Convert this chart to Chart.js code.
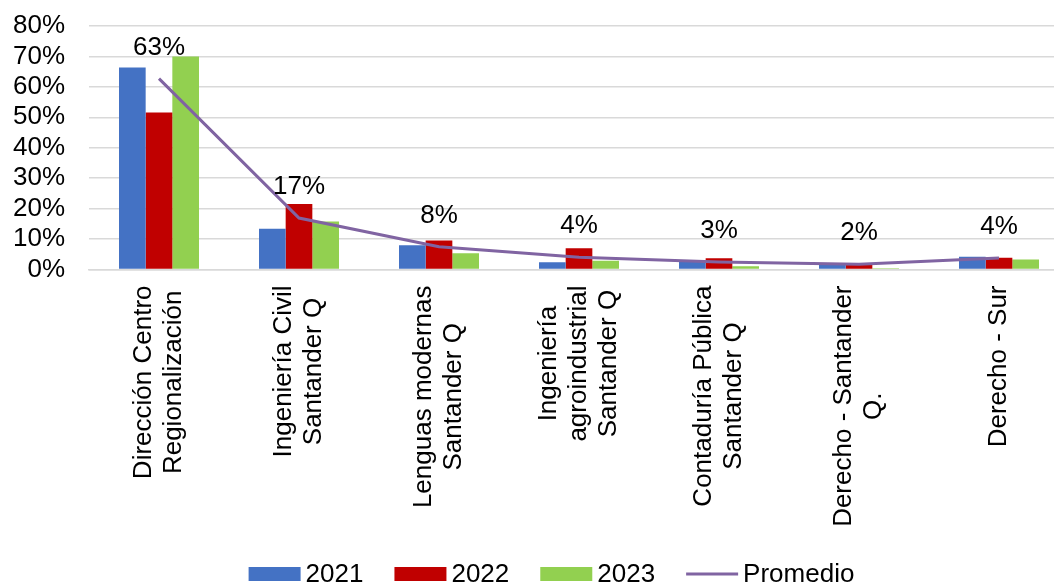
<!DOCTYPE html>
<html>
<head>
<meta charset="utf-8">
<script src="https://cdn.jsdelivr.net/npm/chart.js@4/dist/chart.umd.min.js"></script>
<style>
  html, body { margin: 0; padding: 0; background: #fff; overflow: hidden; }
  #wrap { width: 1054px; height: 582px; overflow: hidden; }
</style>
</head>
<body>
<div id="wrap">
  <canvas id="chart" width="1103" height="582"></canvas>
</div>
<script>
// categories, one array per label (each entry is a line)
const categories = [
    ['Dirección Centro', 'Regionalización'],
    ['Ingeniería Civil', 'Santander Q'],
    ['Lenguas modernas', 'Santander Q'],
    ['Ingeniería', 'agroindustrial', 'Santander Q'],
    ['Contaduría Pública', 'Santander Q'],
    ['Derecho - Santander', 'Q.'],
    ['Derecho - Sur']
];
const values2021 = [66.4, 13.4, 8.0, 2.4, 2.8, 1.8, 4.2];
const values2022 = [51.6, 21.5, 9.5, 7.0, 3.7, 2.0, 3.9];
const values2023 = [70.0, 15.8, 5.3, 2.9, 1.1, 0.4, 3.3];
const promedio = [62.7, 16.9, 7.5, 4.0, 2.5, 1.7, 3.8];
const yTicks = [0, 10, 20, 30, 40, 50, 60, 70, 80];

const FONT = "'Liberation Sans', Arial, sans-serif";

// percentage labels above the average line
const lineLabels = {
    id: 'lineLabels',
    afterDatasetsDraw(chart) {
        const ctx = chart.ctx;
        const meta = chart.getDatasetMeta(3);
        ctx.save();
        ctx.font = '26px ' + FONT;
        ctx.fillStyle = '#000';
        ctx.textAlign = 'center';
        ctx.textBaseline = 'middle';
        meta.data.forEach((pt, i) => {
            ctx.fillText(Math.round(promedio[i]) + '%', pt.x, pt.y - 31);
        });
        ctx.restore();
    }
};

// rotated, centred multi-line category labels
const xLabels = {
    id: 'xLabels',
    afterDraw(chart) {
        const ctx = chart.ctx;
        const xs = chart.scales.x;
        const top = chart.chartArea.bottom + 16;
        ctx.save();
        ctx.font = '26px ' + FONT;
        ctx.fillStyle = '#000';
        ctx.textAlign = 'center';
        ctx.textBaseline = 'middle';
        categories.forEach((lines, i) => {
            const cx = xs.getPixelForValue(i);
            const maxW = Math.max(...lines.map(l => ctx.measureText(l).width));
            lines.forEach((line, j) => {
                const lx = cx + (j - (lines.length - 1) / 2) * 30;
                ctx.save();
                ctx.translate(lx, top);
                ctx.rotate(-Math.PI / 2);
                ctx.fillText(line, -maxW / 2, 0);
                ctx.restore();
            });
        });
        ctx.restore();
    }
};

// legend drawn like the Excel one: box, short gap, text
const excelLegend = {
    id: 'excelLegend',
    afterDraw(chart) {
        const ctx = chart.ctx;
        const sets = chart.data.datasets;
        ctx.save();
        ctx.font = '26px ' + FONT;
        const boxW = 52, gapText = 5, gapItem = 31;
        let total = 0;
        sets.forEach((ds, i) => {
            total += boxW + gapText + ctx.measureText(ds.label).width;
            if (i < sets.length - 1) total += gapItem;
        });
        let x = chart.width / 2 - total / 2;
        const base = chart.height;
        sets.forEach(ds => {
            if (ds.type === 'line') {
                ctx.strokeStyle = ds.borderColor;
                ctx.lineWidth = 3;
                ctx.beginPath();
                ctx.moveTo(x, base - 8);
                ctx.lineTo(x + boxW, base - 8);
                ctx.stroke();
            } else {
                ctx.fillStyle = ds.backgroundColor;
                ctx.fillRect(x, base - 15, boxW, 14);
            }
            x += boxW + gapText;
            ctx.fillStyle = '#000';
            ctx.textAlign = 'left';
            ctx.textBaseline = 'alphabetic';
            ctx.fillText(ds.label, x, base);
            x += ctx.measureText(ds.label).width + gapItem;
        });
        ctx.restore();
    }
};

new Chart(document.getElementById('chart'), {
    type: 'bar',
    data: {
        labels: categories,
        datasets: [
            { label: '2021', data: values2021, backgroundColor: '#4472C4', order: 1 },
            { label: '2022', data: values2022, backgroundColor: '#C00000', order: 1 },
            { label: '2023', data: values2023, backgroundColor: '#92D050', order: 1 },
            {
                label: 'Promedio',
                type: 'line',
                data: promedio,
                borderColor: '#8064A2',
                borderWidth: 3,
                pointRadius: 0,
                tension: 0,
                order: 0
            }
        ]
    },
    options: {
        responsive: false,
        animation: false,
        events: [],
        layout: { padding: { top: 26, right: 34, left: 0, bottom: 0 } },
        categoryPercentage: 80 / 140,
        barPercentage: 1,
        plugins: {
            legend: { display: false },
            tooltip: { enabled: false }
        },
        scales: {
            x: {
                grid: { display: false },
                border: { display: true, color: '#D9D9D9', width: 1.5 },
                ticks: { display: false },
                afterFit: s => { s.height = 312.5; }
            },
            y: {
                min: 0,
                max: 80,
                afterBuildTicks: s => { s.ticks = yTicks.map(v => ({ value: v })); },
                // transparent tick marks give the gap between labels and plot
                grid: { color: '#D9D9D9', lineWidth: 1.5, drawTicks: true, tickLength: 24, tickColor: 'rgba(0,0,0,0)' },
                border: { display: false },
                ticks: {
                    autoSkip: false,
                    padding: 0,
                    color: '#000',
                    font: { family: FONT, size: 26 },
                    callback: v => v + '%'
                },
                afterFit: s => { s.width = 89; }
            }
        }
    },
    plugins: [lineLabels, xLabels, excelLegend]
});
</script>
</body>
</html>
